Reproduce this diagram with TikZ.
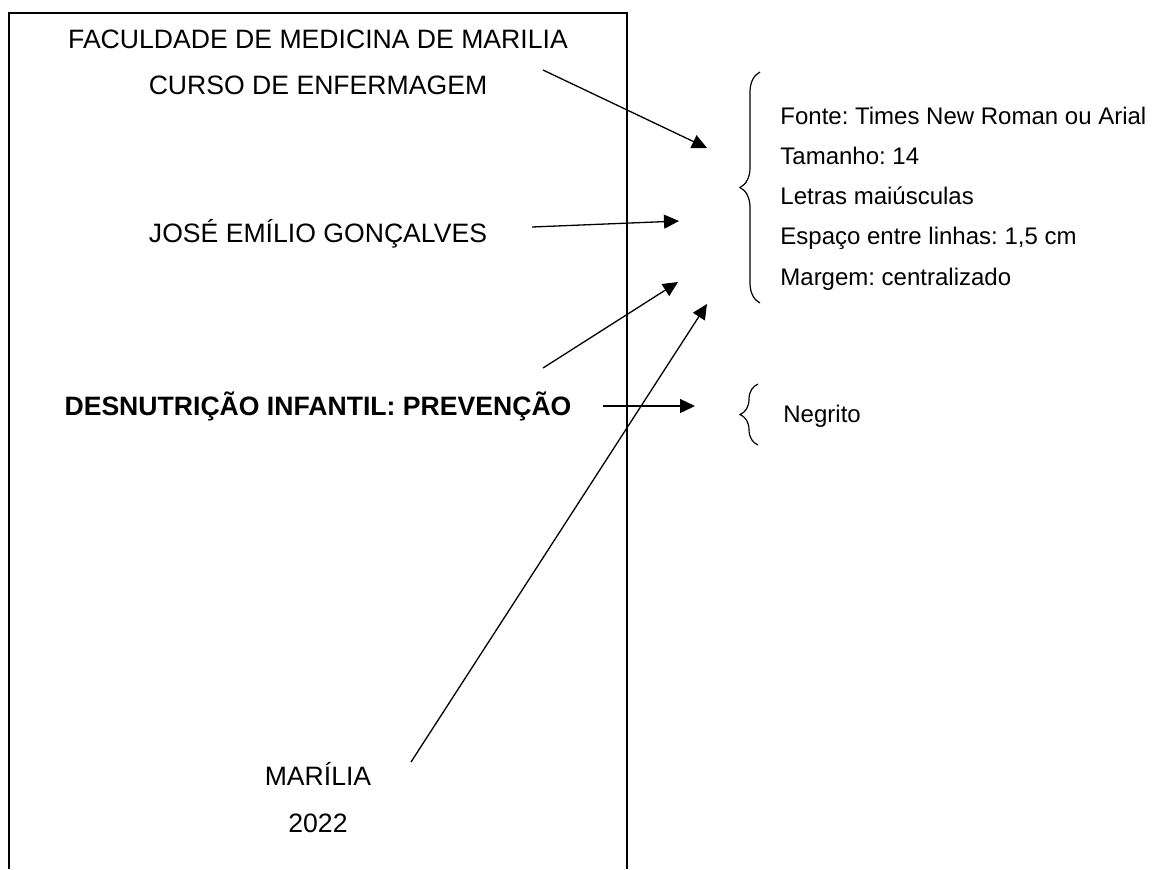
\documentclass[tikz,border=0pt]{standalone}
\usepackage{fontspec}
\setmainfont{Liberation Sans}
\usetikzlibrary{arrows.meta,positioning,decorations.pathreplacing}
\frenchspacing

\begin{document}
\begin{tikzpicture}[
  x=0.5pt, y=-0.5pt,
  every node/.style={inner sep=0pt},
  capa/.style={font=\fontsize{13.3}{16}\selectfont, anchor=base},
  nota/.style={font=\fontsize{12}{14}\selectfont, anchor=west,
    text height=9pt, text depth=3pt},
  seta/.style={-{Triangle[length=7.5pt,width=7pt]}, line width=0.65pt},
  chave/.style={decorate, decoration={brace, amplitude=#1}, line width=0.6pt},
  chave/.default=10pt
]
\useasboundingbox (0,0) rectangle (1159,869);

% folha
\draw[line width=0.75pt] (9,869) -- (9,13) -- (627,13) -- (627,869);

\node[capa] (fac) at (318,48) {FACULDADE DE MEDICINA DE MARILIA};
\node[capa] (curso) at (318,94) {CURSO DE ENFERMAGEM};
\node[capa] (autor) at (318,242) {JOSÉ EMÍLIO GONÇALVES};
\node[capa, font=\fontsize{13.3}{16}\selectfont\bfseries] (titulo) at (318,415)
  {DESNUTRIÇÃO INFANTIL: PREVENÇÃO};
\node[capa] (cidade) at (318,785) {MARÍLIA};
\node[capa] (ano) at (318,832) {2022};

% regras
\node[nota] (fonte) at (780,118) {Fonte: Times New Roman ou Arial};
\node[nota, below=7.75pt of fonte.south west, anchor=north west] (tam) {Tamanho: 14};
\node[nota, below=7.75pt of tam.south west, anchor=north west] (letras) {Letras maiúsculas};
\node[nota, below=7.75pt of letras.south west, anchor=north west] (esp) {Espaço entre linhas: 1,5 cm};
\node[nota, below=7.75pt of esp.south west, anchor=north west] (marg) {Margem: centralizado};
\node[nota] (negr) at (783,416) {Negrito};

\draw[chave=10pt] (760,303) -- (760,72);
\draw[chave=9pt] (758,445) -- (758,384);

% setas
\coordinate (s1) at (543,70);  \coordinate (t1) at (707,148);
\coordinate (s2) at (532,227); \coordinate (t2) at (679,221);
\coordinate (s3) at (543,368); \coordinate (t3) at (678,282);
\coordinate (s4) at (411,762); \coordinate (t4) at (707,304);
\coordinate (s5) at (603,406); \coordinate (t5) at (695,406);

\draw[seta] (s1) -- (t1);
\draw[seta] (s2) -- (t2);
\draw[seta] (s3) -- (t3);
\draw[seta] (s4) -- (t4);
\draw[seta] (s5) -- (t5);
\end{tikzpicture}
\end{document}
